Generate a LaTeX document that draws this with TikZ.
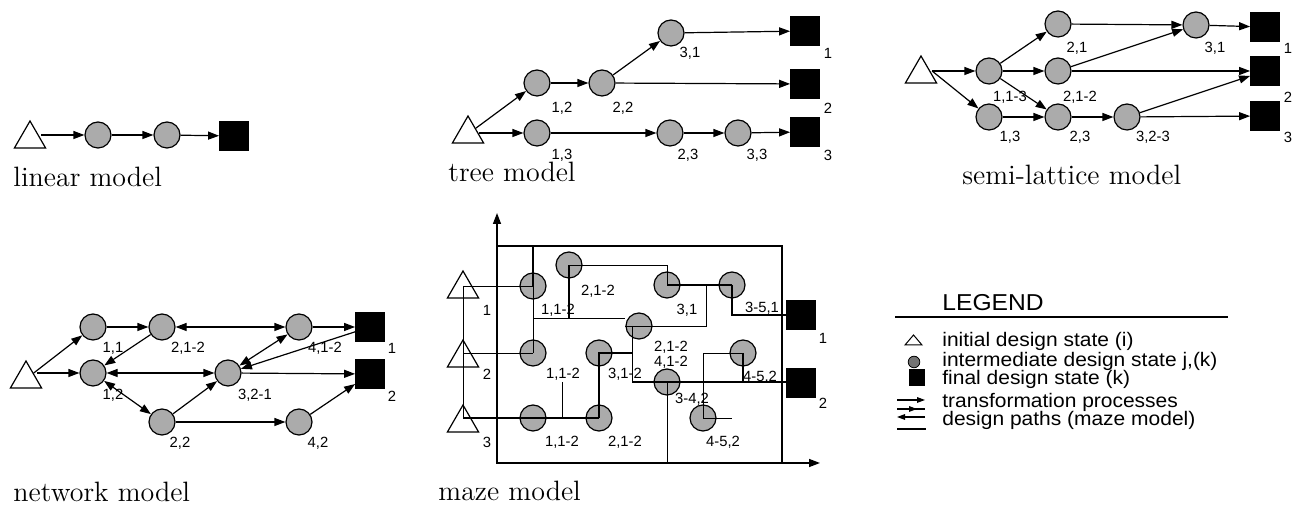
\documentclass[tikz,border=0pt]{standalone}
\usepackage{fontspec}
\newfontfamily\lblfont{Liberation Sans}
\newfontfamily\lgfont[FakeStretch=1.07]{Liberation Sans}
\usetikzlibrary{arrows.meta,shapes.geometric}
\begin{document}
\begin{tikzpicture}[x=0.5pt,y=-0.5pt,
  st/.style={circle, draw, line width=0.6pt, fill=black!33, minimum size=13pt, inner sep=0pt},
  fin/.style={rectangle, draw, fill=black, minimum size=14.5pt, inner sep=0pt},
  ini/.style={regular polygon, regular polygon sides=3, draw, line width=0.6pt, fill=white, minimum size=18pt, inner sep=0pt},
  lbl/.style={font=\lblfont\fontsize{7.4pt}{8pt}\selectfont, inner sep=0pt},
  captxt/.style={font=\fontsize{14pt}{16pt}\selectfont, inner sep=0pt, anchor=base west},
  lgt/.style={font=\lgfont\fontsize{9.8pt}{10pt}\selectfont, inner sep=0pt, anchor=west},
  arr/.style={-{Triangle[length=5.5pt,width=4pt]}, line width=0.6pt},
  darr/.style={{Triangle[length=5.5pt,width=4pt]}-{Triangle[length=5.5pt,width=4pt]}, line width=0.6pt},
  mz/.style={line width=0.75pt},
  mzt/.style={line width=0.45pt},
  smallarr/.style={-{Triangle[length=4pt,width=2.8pt]}, line width=0.55pt}
]
\useasboundingbox (0,0) rectangle (1301,506);

% ---------------- linear model ----------------
\node[ini] (lt) at (30,139) {};
\node[st] (l1) at (98,135) {};
\node[st] (l2) at (167,135) {};
\node[fin] (ls) at (234,136) {};
\draw[arr] (lt.east |- l1) -- (l1);
\draw[arr] (l1) -- (l2);
\draw[arr] (l2) -- (ls);
\node[captxt] (lcap) at (13,187) {linear model};

% ---------------- tree model ----------------
\node[ini] (tt) at (468,134) {};
\node[st] (t12) at (537,83) {};
\node[st] (t22) at (602,83) {};
\node[st] (t31) at (671,33) {};
\node[st] (t13) at (537,133) {};
\node[st] (t23) at (670,133) {};
\node[st] (t33) at (738,133) {};
\node[fin] (ts1) at (805,31) {};
\node[fin] (ts2) at (805,84) {};
\node[fin] (ts3) at (805,132) {};
\draw[arr] (tt) -- (t12);
\draw[arr] (tt.east |- t13) -- (t13);
\draw[arr] (t12) -- (t22);
\draw[arr] (t22) -- (t31);
\draw[arr] (t22) -- (ts2);
\draw[arr] (t31) -- (ts1);
\draw[arr] (t13) -- (t23);
\draw[arr] (t23) -- (t33);
\draw[arr] (t33) -- (ts3);
\node[lbl] (tl31) at (690,53) {3,1};
\node[lbl] (tl12) at (562,108) {1,2};
\node[lbl] (tl22) at (623,108) {2,2};
\node[lbl] (tl13) at (562,155) {1,3};
\node[lbl] (tl23) at (688,155) {2,3};
\node[lbl] (tl33) at (757,155) {3,3};
\node[lbl] (tls1) at (828,53) {1};
\node[lbl] (tls2) at (828,108) {2};
\node[lbl] (tls3) at (828,155) {3};
\node[captxt] (tcap) at (448,182) {tree model};

% ---------------- semi-lattice model ----------------
\node[ini] (sti) at (921,74) {};
\node[st] (s113) at (989,71) {};
\node[st] (s21) at (1058,24) {};
\node[st] (s212) at (1058,71) {};
\node[st] (s13) at (989,117) {};
\node[st] (s23) at (1058,117) {};
\node[st] (s323) at (1127,117) {};
\node[st] (s31) at (1196,25) {};
\node[fin] (ss1) at (1265,27) {};
\node[fin] (ss2) at (1265,71) {};
\node[fin] (ss3) at (1265,116) {};
\draw[arr] (sti.east |- s113) -- (s113);
\draw[arr] (sti.east |- s113) -- (s13);
\draw[arr] (s113) -- (s21);
\draw[arr] (s113) -- (s212);
\draw[arr] (s113) -- (s23);
\draw[arr] (s13) -- (s23);
\draw[arr] (s23) -- (s323);
\draw[arr] (s323) -- (ss3);
\draw[arr] (s323) -- (ss2);
\draw[arr] (s21) -- (s31);
\draw[arr] (s212) -- (s31);
\draw[arr] (s212) -- (ss2);
\draw[arr] (s31) -- (ss1);
\node[lbl] (sl21) at (1077,48) {2,1};
\node[lbl] (sl31) at (1215,48) {3,1};
\node[lbl] (sls1) at (1288,48) {1};
\node[lbl] (sl113) at (1010,97) {1,1-3};
\node[lbl] (sl212) at (1080,97) {2,1-2};
\node[lbl] (sls2) at (1288,97) {2};
\node[lbl] (sl13) at (1010,137) {1,3};
\node[lbl] (sl23) at (1080,137) {2,3};
\node[lbl] (sl323) at (1153,137) {3,2-3};
\node[lbl] (sls3) at (1288,137) {3};
\node[captxt] (scap) at (962,185) {semi-lattice model};

% ---------------- network model ----------------
\node[ini] (nt) at (26,379) {};
\node[st] (n11) at (93,327) {};
\node[st] (n212) at (162,327) {};
\node[st] (n412) at (299,327) {};
\node[st] (n12) at (93,373) {};
\node[st] (n321) at (228,373) {};
\node[st] (n22) at (162,422) {};
\node[st] (n42) at (299,422) {};
\node[fin] (ns1) at (370,327) {};
\node[fin] (ns2) at (370,374) {};
\draw[arr] (nt) -- (n11);
\draw[arr] (nt.east |- n12) -- (n12);
\draw[arr] (n11) -- (n212);
\draw[arr] (n212) -- (n12);
\draw[darr] (n212) -- (n412);
\draw[arr] (n412) -- (ns1);
\draw[darr] (n12) -- (n321);
\draw[darr] (n12) -- (n22);
\draw[arr] (n22) -- (n321);
\draw[darr] (n321) -- (n412);
\draw[arr] (ns1) -- (n321);
\draw[arr] (n321) -- (ns2);
\draw[arr] (n22) -- (n42);
\draw[arr] (n42) -- (ns2);
\node[lbl] (nl11) at (113,348) {1,1};
\node[lbl] (nl212) at (188,348) {2,1-2};
\node[lbl] (nl412) at (325,348) {4,1-2};
\node[lbl] (nls1) at (392,348) {1};
\node[lbl] (nl12) at (113,395) {1,2};
\node[lbl] (nl321) at (255,395) {3,2-1};
\node[lbl] (nls2) at (392,396) {2};
\node[lbl] (nl22) at (180,443) {2,2};
\node[lbl] (nl42) at (318,443) {4,2};
\node[captxt] (ncap) at (13,502) {network model};

% ---------------- maze model ----------------
\coordinate (mo) at (497,463);
\coordinate (myt) at (497,213);
\coordinate (mxt) at (820,463);
\coordinate (mtr) at (782,246);
\draw[{Triangle[length=5.5pt,width=4pt]}-{Triangle[length=5.5pt,width=4pt]}, line width=0.7pt] (myt) -- (mo) -- (mxt);
\draw[mz] (mo |- mtr) -- (mtr) -- (mtr |- mo);

\node[ini, fill=none] (mt1) at (463,289) {};
\node[ini, fill=none] (mt2) at (463,358) {};
\node[ini, fill=none] (mt3) at (463,423) {};
\node[st] (ma) at (533,286) {};
\node[st] (mb) at (569,265) {};
\node[st] (mc) at (667,285) {};
\node[st] (md) at (732,285) {};
\node[st] (me) at (639,326) {};
\node[st] (mf) at (533,353) {};
\node[st] (mg) at (599,353) {};
\node[st] (mh) at (667,382) {};
\node[st] (mi) at (743,353) {};
\node[st] (mj) at (533,418) {};
\node[st] (mk) at (599,418) {};
\node[st] (ml) at (703,418) {};
\node[fin] (msq1) at (801,315) {};
\node[fin] (msq2) at (801,383) {};

\coordinate (j1) at (632,382);
\coordinate (j2) at (533,318);
\coordinate (j3) at (706,326);
\coordinate (ms) at (562,382);
\coordinate (j5) at (732,418);

\draw[mzt] (mt1.center |- ma) -- (ma.center);
\draw[mzt] (mt1.center |- ma) -- (mt3.center |- mj);
\draw[mz] (ma.center) -- (ma.center |- mtr);
\draw[mzt] (ma.center) -- (mf.center);
\draw[mzt] (mt2.center |- mf) -- (mf.center);
\draw[mz] (mt3.center |- mj) -- (mk.center);
\draw[mzt] (ms) -- (ms |- mj);
\draw[mz] (mk.center) -- (mg.center) -- (j1 |- mg);
\draw[mzt] (j1 |- me) -- (j1);
\draw[mz] (j1) -- (j1 -| msq2.west);
\draw[mzt] (j2) -- (j2 -| me.west);
\draw[mz] (mb.center |- j2) -- (mb.center);
\draw[mzt] (mb.center) -| (mc.center);
\draw[mz] (mc.center) -- (md.center);
\draw[mzt] (j3 |- mc) -- (j3) -- (me.west);
\draw[mz] (md.center) |- (msq1.west);
\draw[mzt] (mh.center) -- (mh.center |- mo);
\draw[mz] (mi.center) -- (mi.center |- j1);
\draw[mzt] (mi.center) -| (ml.center);
\draw[mzt] (ml.center) -- (j5);

\node[lbl] (ml1) at (487,310) {1};
\node[lbl] (ml2) at (487,374) {2};
\node[lbl] (ml3) at (487,442) {3};
\node[lbl] (mlb) at (598,291) {2,1-2};
\node[lbl] (mla) at (558,310) {1,1-2};
\node[lbl] (mlc) at (687,310) {3,1};
\node[lbl] (mld) at (762,308) {3-5,1};
\node[lbl] (mls1) at (823,338) {1};
\node[lbl] (mle1) at (671,347) {2,1-2};
\node[lbl] (mle2) at (671,362) {4,1-2};
\node[lbl] (mlf) at (563,374) {1,1-2};
\node[lbl] (mlg) at (625,374) {3,1-2};
\node[lbl] (mli) at (760,377) {4-5,2};
\node[lbl] (mlh) at (692,399) {3-4,2};
\node[lbl] (mls2) at (823,403) {2};
\node[lbl] (mlj) at (562,442) {1,1-2};
\node[lbl] (mlk) at (625,442) {2,1-2};
\node[lbl] (mll) at (723,442) {4-5,2};
\node[captxt] (mcap) at (438,501) {maze model};

% ---------------- legend ----------------
\node[font=\lgfont\fontsize{11.5pt}{12pt}\selectfont, inner sep=0pt, anchor=west] (lgh) at (942,303) {LEGEND};
\draw[line width=0.6pt] (895,317) -- (1228,317);
\draw[line width=0.5pt] (905,345) -- (913.5,335) -- (922,345) -- cycle;
\node[circle, draw, line width=0.4pt, fill=black!55, minimum size=5.8pt, inner sep=0pt] (lgc) at (914,362) {};
\node[rectangle, fill=black, minimum width=8pt, minimum height=8.5pt, inner sep=0pt] (lgs) at (917,378) {};
\draw[smallarr] (897,400) -- (925,400);
\draw[smallarr] (897,409) -- (917,409);
\draw[line width=0.55pt] (915,409) -- (925,409);
\draw[smallarr] (925,417) -- (897,417);
\draw[line width=0.55pt] (897,429) -- (926,429);
\node[lgt] (lg1) at (942,341) {initial design state (i)};
\node[lgt] (lg2) at (942,361) {intermediate design state j,(k)};
\node[lgt] (lg3) at (942,379) {final design state (k)};
\node[lgt] (lg4) at (942,402) {transformation processes};
\node[lgt] (lg5) at (942,420) {design paths (maze model)};
\end{tikzpicture}
\end{document}
